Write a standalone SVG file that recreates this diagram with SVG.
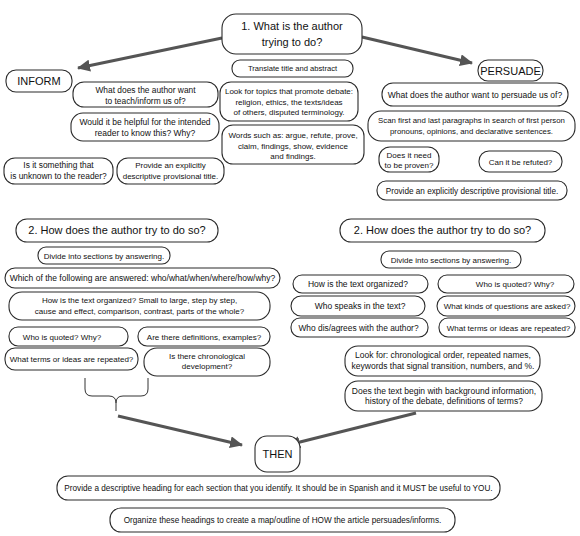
<svg xmlns="http://www.w3.org/2000/svg" width="580" height="536" viewBox="0 0 580 536">
<style>
.b{fill:#fff;stroke:#2a2a2a;stroke-width:1.1}
text{font-family:"Liberation Sans",Arial,sans-serif;fill:#111;text-anchor:middle}
.s{font-size:8px}
.t{font-size:7.6px}
.l{font-size:8.4px}
.m{font-size:8.5px}
.h{font-size:11px}
.c{fill:none;stroke:#555;stroke-width:3}
.br{fill:none;stroke:#333;stroke-width:1}
</style>
<defs>
<marker id="ah" markerUnits="userSpaceOnUse" markerWidth="14" markerHeight="12" refX="12" refY="6" orient="auto">
<path d="M0,0 L13,6 L0,12 Z" fill="#555"/>
</marker>
</defs>
<rect width="580" height="536" fill="#fff"/>
<g id="connectors">
<path class="c" d="M222,38 L78,68" marker-end="url(#ah)"/>
<path class="c" d="M362,37 L472,63" marker-end="url(#ah)"/>
<path class="c" d="M118,416 L242,445" marker-end="url(#ah)"/>
<path class="c" d="M416,413 L288,445" marker-end="url(#ah)"/>
<path class="br" d="M85,378 L85,389 Q85,396 92,396 L109,396 Q116,396 116,403 L116,411 M148,378 L148,389 Q148,396 141,396 L123,396 Q116,396 116,403"/>
</g>
<g id="q1"><rect class="b" x="222" y="14" width="140" height="40" rx="14"/><text class="h" x="292" y="30">1. What is the author</text><text class="h" x="292" y="46">trying to do?</text></g>
<g id="translate"><rect class="b" x="232" y="60" width="121" height="17" rx="8"/><text class="t" x="292.5" y="71">Translate title and abstract</text></g>
<g id="topics"><rect class="b" x="220" y="82" width="138" height="39" rx="11"/><text class="s" x="289" y="94">Look for topics that promote debate:</text><text class="s" x="289" y="104.5">religion, ethics, the texts/ideas</text><text class="s" x="289" y="115">of others, disputed terminology.</text></g>
<g id="words"><rect class="b" x="222" y="125" width="142" height="39" rx="11"/><text class="s" x="293" y="138">Words such as: argue, refute, prove,</text><text class="s" x="293" y="148.5">claim, findings, show, evidence</text><text class="s" x="293" y="159">and findings.</text></g>
<g id="inform"><rect class="b" x="6" y="70" width="66" height="22" rx="10"/><text class="h" x="39" y="85">INFORM</text></g>
<g id="i1"><rect class="b" x="73" y="82" width="145" height="25" rx="11"/><text class="l" x="145.5" y="93">What does the author want</text><text class="l" x="145.5" y="103.5">to teach/inform us of?</text></g>
<g id="i2"><rect class="b" x="71" y="113" width="148" height="28" rx="12"/><text class="m" x="145" y="125">Would it be helpful for the intended</text><text class="m" x="145" y="135.5">reader to know this? Why?</text></g>
<g id="i3"><rect class="b" x="4" y="158" width="109" height="26" rx="11"/><text class="l" x="58.5" y="168">Is it something that</text><text class="l" x="58.5" y="178.5">is unknown to the reader?</text></g>
<g id="i4"><rect class="b" x="117" y="158" width="107" height="26" rx="11"/><text class="s" x="170.5" y="168">Provide an explicitly</text><text class="s" x="170.5" y="178.5">descriptive provisional title.</text></g>
<g id="persuade"><rect class="b" x="478" y="60" width="65" height="21" rx="10"/><text class="h" x="510.5" y="74.5">PERSUADE</text></g>
<g id="p1"><rect class="b" x="382" y="83" width="186" height="23" rx="11"/><text class="m" x="475" y="97.5">What does the author want to persuade us of?</text></g>
<g id="p2"><rect class="b" x="368" y="111" width="207" height="30" rx="13"/><text class="t" x="471.5" y="123" style="font-size:7.8px">Scan first and last paragraphs in search of first person</text><text class="t" x="471.5" y="133.5" style="font-size:7.8px">pronouns, opinions, and declarative sentences.</text></g>
<g id="p3"><rect class="b" x="379" y="147" width="60" height="25" rx="11"/><text class="s" x="409" y="158">Does it need</text><text class="s" x="409" y="168">to be proven?</text></g>
<g id="p4"><rect class="b" x="479" y="151" width="83" height="21" rx="10"/><text class="s" x="520.5" y="164.5">Can it be refuted?</text></g>
<g id="p5"><rect class="b" x="377" y="181" width="190" height="19" rx="9"/><text class="s" x="472" y="193.5" style="font-size:8.2px">Provide an explicitly descriptive provisional title.</text></g>
<g id="q2l"><rect class="b" x="16" y="219" width="202" height="23" rx="11"/><text class="h" x="117" y="234">2. How does the author try to do so?</text></g>
<g id="l1"><rect class="b" x="38" y="247" width="132" height="17" rx="8"/><text class="s" x="104" y="258.5">Divide into sections by answering.</text></g>
<g id="l2"><rect class="b" x="5" y="268" width="275" height="20" rx="10"/><text class="m" x="142.5" y="281">Which of the following are answered: who/what/when/where/how/why?</text></g>
<g id="l3"><rect class="b" x="9" y="292" width="261" height="28" rx="13"/><text class="s" x="139.5" y="303">How is the text organized? Small to large, step by step,</text><text class="s" x="139.5" y="314">cause and effect, comparison, contrast, parts of the whole?</text></g>
<g id="l4"><rect class="b" x="9" y="327" width="119" height="19" rx="9"/><text class="s" x="62" y="339.5">Who is quoted? Why?</text></g>
<g id="l5"><rect class="b" x="138" y="327" width="132" height="19" rx="9"/><text class="s" x="204" y="339.5">Are there definitions, examples?</text></g>
<g id="l6"><rect class="b" x="5" y="348" width="133" height="22" rx="10"/><text class="s" x="71.5" y="362">What terms or ideas are repeated?</text></g>
<g id="l7"><rect class="b" x="144" y="348" width="126" height="28" rx="13"/><text class="s" x="207" y="358.5">Is there chronological</text><text class="s" x="207" y="369">development?</text></g>
<g id="q2r"><rect class="b" x="340" y="219" width="205" height="23" rx="11"/><text class="h" x="442.5" y="234">2. How does the author try to do so?</text></g>
<g id="r1"><rect class="b" x="381" y="251" width="140" height="17" rx="8"/><text class="s" x="451" y="262.5">Divide into sections by answering.</text></g>
<g id="r2"><rect class="b" x="293" y="275" width="135" height="18" rx="9"/><text class="m" x="358" y="287">How is the text organized?</text></g>
<g id="r3"><rect class="b" x="438" y="275" width="136" height="18" rx="9"/><text class="s" x="515" y="287">Who is quoted? Why?</text></g>
<g id="r4"><rect class="b" x="291" y="296" width="134" height="20" rx="10"/><text class="m" x="360" y="309">Who speaks in the text?</text></g>
<g id="r5"><rect class="b" x="437" y="296" width="138" height="20" rx="10"/><text class="s" x="507" y="309">What kinds of questions are asked?</text></g>
<g id="r6"><rect class="b" x="291" y="318" width="137" height="19" rx="9"/><text class="l" x="358.5" y="330.5">Who dis/agrees with the author?</text></g>
<g id="r7"><rect class="b" x="439" y="318" width="136" height="19" rx="9"/><text class="s" x="508.5" y="330.5">What terms or ideas are repeated?</text></g>
<g id="r8"><rect class="b" x="345" y="346" width="195" height="30" rx="13"/><text class="m" x="443" y="358">Look for: chronological order, repeated names,</text><text class="m" x="443" y="368.5">keywords that signal transition, numbers, and %.</text></g>
<g id="r9"><rect class="b" x="345" y="381" width="197" height="30" rx="13"/><text class="m" x="444" y="393.5">Does the text begin with background information,</text><text class="m" x="444" y="404">history of the debate, definitions of terms?</text></g>
<g id="then"><rect class="b" x="255" y="436" width="45" height="36" rx="12"/><text class="h" x="277.5" y="458">THEN</text></g>
<g id="b1"><rect class="b" x="57" y="476" width="443" height="24" rx="11"/><text class="s" x="278.5" y="491" style="font-size:8.2px">Provide a descriptive heading for each section that you identify. It should be in Spanish and it MUST be useful to YOU.</text></g>
<g id="b2"><rect class="b" x="110" y="508" width="345" height="24" rx="11"/><text class="s" x="282.5" y="523" style="font-size:8.2px">Organize these headings to create a map/outline of HOW the article persuades/informs.</text></g>
</svg>
